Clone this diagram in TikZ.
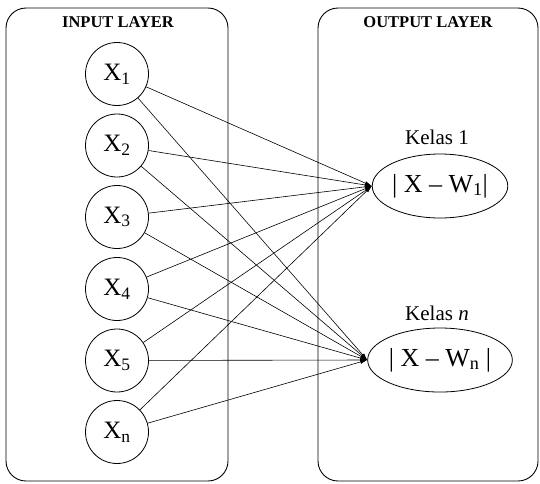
\documentclass[tikz,border=0pt]{standalone}
\usepackage{fontspec}
\setmainfont{Liberation Serif}
\usetikzlibrary{arrows.meta,shapes.geometric}

\tikzset{
    layer/.style={draw, rounded corners=20pt, line width=0.9pt, minimum width=222pt, minimum height=473pt},
    title/.style={font=\fontsize{16.5}{18}\selectfont\bfseries},
    input/.style={draw, circle, minimum size=63pt, inner sep=0pt, line width=0.8pt, font=\fontsize{25}{27}\selectfont},
    output/.style={draw, ellipse, minimum width=134pt, minimum height=64pt, inner sep=0pt, line width=0.8pt, font=\fontsize{26}{28}\selectfont},
    kelas/.style={font=\fontsize{21}{23}\selectfont},
    link/.style={-{Latex[length=7pt,width=4pt]}, line width=0.6pt}
}

\begin{document}
\begin{tikzpicture}[x=1pt, y=-1pt]
        \useasboundingbox (0,0) rectangle (540,483);

        \node at (117,244.5) [layer] (inbox) {};
        \node at (428,244.5) [layer, minimum width=220pt] (outbox) {};
        \node at (118,22) [title] (intitle) {INPUT LAYER};
        \node at (428,22) [title] (outtitle) {OUTPUT LAYER};

        \node at (117,74) [input] (x1) {X\textsubscript{1}};
        \node at (117,145.5) [input] (x2) {X\textsubscript{2}};
        \node at (117,217) [input] (x3) {X\textsubscript{3}};
        \node at (117,289) [input] (x4) {X\textsubscript{4}};
        \node at (117,360.5) [input] (x5) {X\textsubscript{5}};
        \node at (117,432) [input] (xn) {X\textsubscript{n}};

        \node at (440,186) [output] (k1) {| X -- W\textsubscript{1}|};
        \node at (440,360) [output] (kn) {| X -- W\textsubscript{n} |};
        \node at (437,137) [kelas] (lk1) {Kelas 1};
        \node at (437,313) [kelas] (lkn) {Kelas \textit{n}};

        \foreach \x in {x1,x2,x3,x4,x5,xn} {
            \draw[link] (\x) -- (k1.west);
            \draw[link] (\x) -- (kn.west);
        }
    \end{tikzpicture}
\end{document}
